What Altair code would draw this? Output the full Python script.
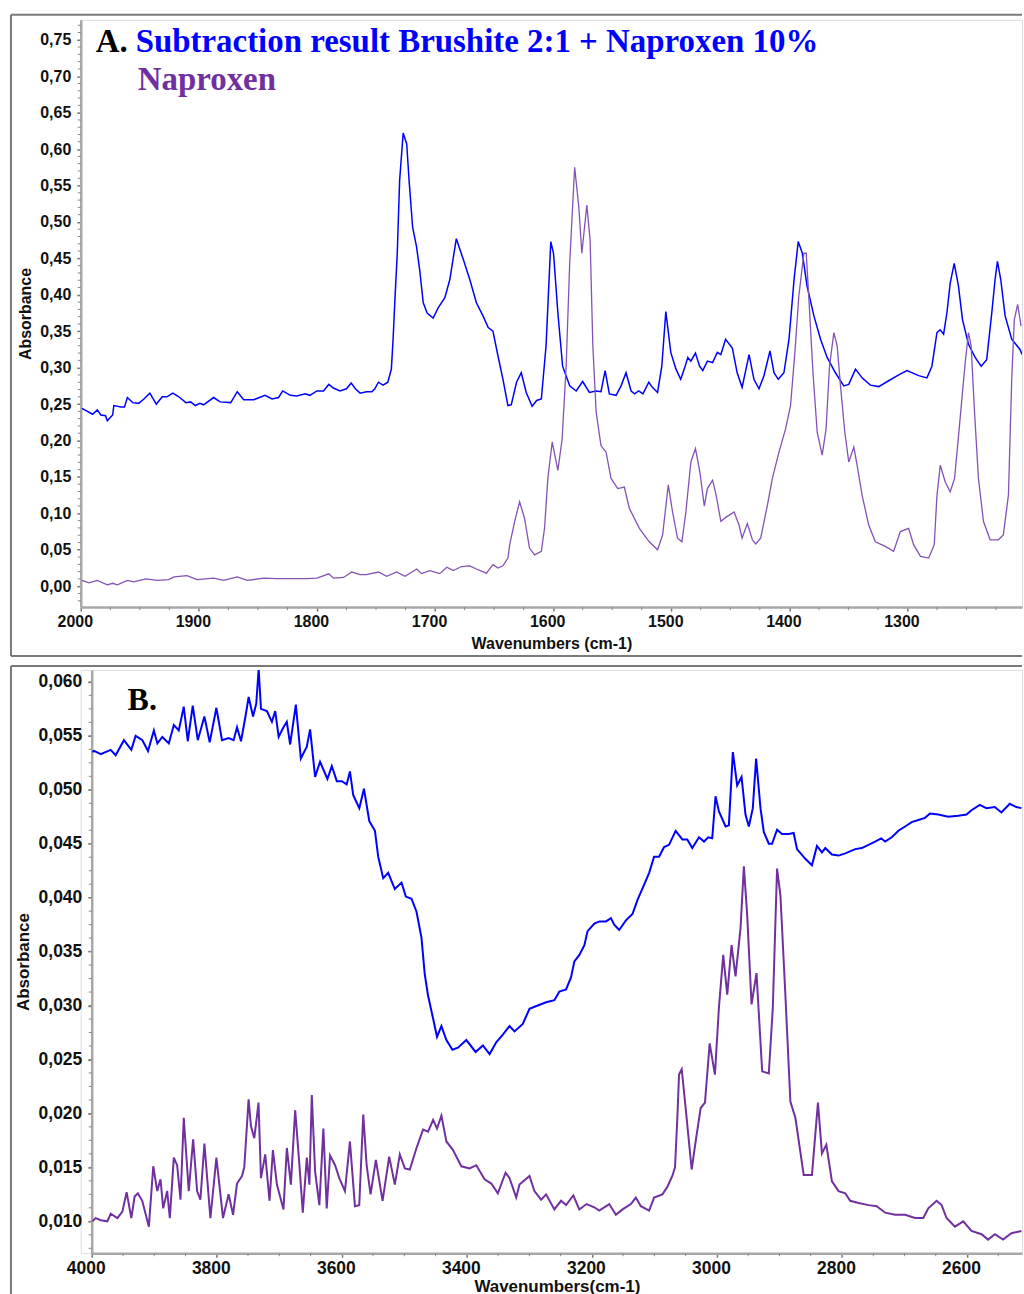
import altair as alt
import pandas as pd

# ---------------- Panel A data (2000-1203 cm-1) ----------------
a_blue_wn = [1999, 1990, 1986, 1983, 1979, 1977.5, 1973, 1972, 1966, 1963, 1960.5, 1956, 1951, 1946.5,
             1941.5, 1936, 1931, 1927, 1922, 1917, 1911, 1907, 1903, 1899, 1896, 1887.5, 1882, 1873,
             1867.5, 1862, 1853.5, 1844, 1838, 1832.5, 1829, 1822.5, 1817, 1810, 1806, 1800, 1794.5,
             1790, 1786, 1780.5, 1775, 1771, 1767.5, 1763.5, 1758, 1753.5, 1751, 1748, 1744, 1740, 1737,
             1735.5, 1734, 1732, 1730, 1727, 1724, 1722, 1719, 1715.7, 1713, 1710, 1706.7, 1701.6,
             1697.4, 1691.7, 1687.5, 1682, 1676, 1670.6, 1665, 1659.4, 1655, 1651, 1646.7, 1642.5,
             1638.3, 1635.5, 1631, 1627, 1622.8, 1617.8, 1614, 1610, 1606, 1602, 1599.7, 1596, 1592,
             1586, 1580.5, 1575, 1569.3, 1563.7, 1559.5, 1556, 1552.4, 1546.7, 1542.5, 1538.3, 1534,
             1531, 1527.6, 1524, 1519, 1516, 1511.6, 1508, 1504.6, 1500.4, 1496, 1492, 1489, 1486,
             1483.4, 1479.5, 1476, 1473.3, 1469.4, 1465, 1461, 1458, 1454, 1448.3, 1444.2, 1440,
             1434.1, 1430, 1425.7, 1421.5, 1416.4, 1413, 1409.4, 1404.6, 1400.3, 1396, 1392.5, 1389,
             1385, 1379.2, 1373.6, 1368, 1361, 1353.9, 1349.7, 1344, 1338.4, 1331.4, 1324.3, 1315.9,
             1307.4, 1300.4, 1290.5, 1283.5, 1279.3, 1275, 1272.3, 1269.4, 1266.6, 1263.8, 1260.4,
             1256.8, 1253.4, 1248.3, 1242.7, 1237.6, 1232.9, 1228.6, 1225.8, 1223.8, 1221, 1217.3,
             1211.7, 1204.7, 1203]
a_blue_abs = [.244, .236, .242, .235, .234, .227, .235, .248, .246, .246, .259, .252, .251, .257,
              .265, .250, .260, .260, .265, .260, .252, .253, .248, .251, .249, .259, .253, .252,
              .267, .256, .256, .262, .257, .259, .268, .262, .261, .264, .262, .268, .268,
              .277, .272, .268, .271, .279, .271, .265, .267, .267, .271, .280, .276, .280, .298,
              .340, .393, .457, .557, .622, .607, .557, .493, .466, .434, .389, .375, .368,
              .382, .396, .421, .477, .448, .421, .389, .371, .355, .350, .316, .284,
              .248, .249, .280, .293, .266, .247, .255, .257, .330, .473, .457, .375, .302,
              .275, .268, .281, .266, .268, .267, .296, .264, .262, .275, .293, .268,
              .264, .268, .264, .280, .273, .266, .302, .377, .321, .298, .284, .298, .314,
              .309, .320, .302, .296, .309, .307, .321, .318, .339, .327, .293, .273,
              .318, .284, .271, .289, .323, .293, .284, .293, .339, .421, .473, .457,
              .412, .371, .339, .314, .293, .275, .277, .298, .286, .276, .274, .282,
              .290, .296, .289, .286, .302, .348, .352, .346, .375, .416, .443,
              .412, .366, .332, .314, .302, .311, .375, .421, .446, .421, .371,
              .339, .325, .318]

a_purple_wn = [1999, 1993, 1986, 1977.5, 1973, 1969, 1960.5, 1955, 1945, 1935, 1925.5, 1921, 1910,
               1901.5, 1887.5, 1879, 1867.5, 1859, 1845, 1834, 1822.5, 1808.5, 1800, 1790, 1786,
               1777.5, 1770.5, 1763.5, 1758, 1748, 1741, 1732.5, 1725.5, 1715.5, 1711.5, 1704.5,
               1696, 1690, 1684.5, 1677.5, 1670.5, 1665, 1656.5, 1651, 1646.7, 1642.5, 1638.3,
               1636.8, 1632.6, 1628.4, 1624.2, 1620, 1615.7, 1610, 1607.3, 1604.5, 1600.8, 1596,
               1592.4, 1589, 1586, 1581.8, 1578.3, 1575.7, 1571.5, 1568.7, 1566.4, 1563.6, 1559.5,
               1555.2, 1551, 1545.3, 1539.7, 1535.5, 1527, 1518.6, 1511.6, 1507.3, 1502.5, 1498.9,
               1494.7, 1491, 1487.6, 1483.4, 1479.5, 1475.8, 1472, 1469.4, 1465, 1462, 1458, 1452.9,
               1446.8, 1442.6, 1440, 1435.6, 1431.3, 1428.5, 1424.3, 1418.6, 1414.4, 1408.8, 1403.2,
               1399, 1395.3, 1392, 1387.7, 1385.7, 1383.4, 1380, 1376.4, 1372.2, 1368.9, 1366,
               1362.3, 1359.5, 1356.7, 1353, 1349.7, 1345.4, 1342.6, 1338.4, 1332.8, 1327.2, 1318.7,
               1311.7, 1306, 1299, 1294.8, 1289, 1282, 1277.3, 1275, 1272.2, 1268, 1263.8, 1260.1,
               1256.2, 1251.1, 1248.3, 1246.1, 1243.2, 1239.9, 1235.6, 1230, 1223, 1218.8, 1214.5,
               1211.7, 1209.5, 1206.7, 1203.8]
a_purple_abs = [.008, .0045, .008, .002, .004, .002, .008, .006, .010, .008, .009, .0127, .0146,
                .009, .011, .008, .0127, .008, .011, .0105, .0105, .0105, .011, .017, .011,
                .012, .0195, .016, .016, .0195, .0136, .0195, .0136, .0236, .0173, .0214,
                .0173, .026, .0214, .027, .028, .0236, .018, .0296, .025, .028, .0386,
                .057, .0887, .116, .093, .052, .043, .048, .0795, .148, .198, .159,
                .202, .302, .443, .575, .521, .457, .523, .475, .330, .239, .193,
                .184, .148, .134, .136, .107, .0795, .061, .050, .0705, .139, .102,
                .066, .061, .102, .1705, .189, .157, .110, .134, .1455, .125, .089, .0955,
                .102, .084, .066, .086, .0637, .058, .066, .111, .148, .184, .216,
                .248, .321, .398, .457, .457, .393, .293, .211, .180, .216, .302,
                .348, .330, .275, .211, .1705, .191, .166, .125, .084, .061, .0546,
                .048, .075, .0795, .057, .041, .0386, .057, .125, .166, .143, .1296, .148,
                .216, .307, .348, .330, .239, .148, .0887, .0637, .0637, .0705, .125,
                .284, .366, .387, .357]

# ---------------- Panel B data (4000-2512 cm-1) ----------------
b_blue_wn = [3999, 3996.3, 3985.6, 3969.7, 3961.7, 3948.5, 3936.7, 3929.8, 3919, 3910, 3900.6, 3895,
             3887, 3876.7, 3868.7, 3860.8, 3852.8, 3846.4, 3838.4, 3830.4, 3819.8, 3811.3, 3800.6,
             3791.6, 3781, 3773, 3767.6, 3761.2, 3754.4, 3749, 3742, 3736.8, 3733, 3729.3, 3719.8,
             3711.8, 3706.5, 3701, 3693.3, 3688, 3682.6, 3673.5, 3665.5, 3656, 3650.7, 3642.7,
             3634.8, 3623, 3616, 3608, 3600, 3592.2, 3587, 3581.7, 3572, 3564.6, 3556, 3547, 3541.8,
             3533.8, 3525.8, 3515.2, 3504.5, 3497.6, 3488.5, 3480.5, 3472.6, 3467.3, 3462, 3454,
             3447.7, 3440.7, 3432.7, 3423.1, 3414.2, 3400.8, 3386, 3374.3, 3363.6, 3353, 3342.4,
             3331.7, 3323.8, 3310.5, 3299.8, 3286.6, 3273.2, 3260, 3252, 3241.3, 3233.4, 3228, 3220,
             3212, 3206.9, 3196, 3188, 3177.5, 3169.5, 3164.3, 3156.3, 3145.6, 3135, 3127, 3116.4,
             3108.4, 3100.5, 3092.5, 3084.5, 3076.6, 3066, 3055.3, 3047.4, 3039.4, 3028.7, 3020.7,
             3013.9, 3007.5, 3002.2, 2996.8, 2986.1, 2980.9, 2974.5, 2967.6, 2960.6, 2954.3, 2948.9,
             2942.6, 2937.3, 2930.3, 2925, 2917, 2911.8, 2903.8, 2895.9, 2885.2, 2877.2, 2871.9,
             2858.6, 2848, 2840, 2832, 2826.7, 2816, 2805.4, 2794.7, 2778.7, 2768.2, 2757.6, 2746.9,
             2737.3, 2730.9, 2720.3, 2709.7, 2699, 2688.5, 2677.8, 2667.2, 2659.2, 2645.9, 2630,
             2614, 2600.8, 2592.8, 2579.5, 2568.9, 2555.5, 2545, 2531.6, 2521, 2513]
b_blue_abs = [.0535, .0536, .0533, .0537, .0532, .0546, .0537, .0550, .0546, .0536, .0555, .0543,
              .0549, .0543, .0560, .0555, .0577, .0545, .0578, .0546, .0568, .0544, .0576,
              .0546, .0548, .0546, .0558, .0545, .0567, .0586, .0568, .0580, .0612, .0575, .0573,
              .0563, .0573, .0549, .0558, .0563, .0542, .0579, .0529, .0540, .0556, .0512,
              .0526, .0510, .0522, .0508, .0508, .0505, .0517, .0495, .0483, .0501, .0471, .0462, .0438,
              .0418, .0423, .0408, .0414, .0401, .0399, .0387, .0363, .0329, .0309, .0288,
              .0271, .0281, .0268, .0259, .0261, .0268, .0257, .0263, .0255, .0266, .0273,
              .0281, .0276, .0283, .0297, .0300, .0303, .0305, .0313, .0315, .0326, .0341, .0347,
              .0356, .0369, .0376, .0378, .0378, .0381, .0375, .0370, .0379, .0385, .0398, .0412,
              .0423, .0438, .0438, .0447, .0449, .0462, .0454, .0454, .0446, .0456, .0452,
              .0456, .0455, .0494, .0480, .0466, .0467, .0535, .0504, .0512, .0477, .0466,
              .0483, .0529, .0483, .0461, .0450, .0450, .0463, .0459, .0459, .0460, .0445,
              .0436, .0430, .0448, .0442, .0446, .0440, .0439, .0441, .0445, .0446, .0449, .0452,
              .0455, .0452, .0456, .0462, .0466, .0470, .0472, .0474, .0478, .0477, .0475,
              .0476, .0477, .0481, .0486, .0483, .0484, .0479, .0487, .0484, .0483]

b_purple_wn = [3999, 3993.6, 3985.6, 3975, 3969.7, 3959, 3951, 3944.2, 3936.7, 3931.4, 3926.2, 3919.2,
               3908.6, 3901.6, 3895.2, 3890, 3885.7, 3879.3, 3875.1, 3868.7, 3863.4, 3858, 3852.8,
               3844.8, 3837.8, 3831.4, 3826.2, 3819.8, 3810.2, 3800.6, 3790, 3781, 3774, 3767.6,
               3759.7, 3756, 3749.1, 3745.3, 3740, 3733.2, 3729.3, 3722.5, 3715.6, 3710.2, 3703.8,
               3693.3, 3687.9, 3681.5, 3674.6, 3667.8, 3662.4, 3656, 3651.8, 3648, 3642.7, 3635.9,
               3629.5, 3624.1, 3618.8, 3610.8, 3604, 3595, 3587, 3579, 3572.1, 3565.7, 3560.3, 3554,
               3545.5, 3534.8, 3524.2, 3515.2, 3507.2, 3499.2, 3491.2, 3480.5, 3470, 3462, 3454,
               3447.7, 3440.7, 3432.7, 3422.1, 3408.8, 3395.5, 3384.9, 3371.6, 3360.9, 3350.4,
               3338.1, 3331.7, 3321, 3315.8, 3299.8, 3291.9, 3281.2, 3273.2, 3260, 3249.3, 3241.3,
               3229.7, 3220.1, 3208.5, 3196.2, 3188.2, 3172.2, 3161.6, 3151, 3137.6, 3129.7, 3121.7,
               3108.4, 3100.5, 3087.2, 3079.2, 3071.3, 3067, 3063, 3060.6, 3056.3, 3050, 3040.4, 3034,
               3026, 3019.1, 3011.6, 3003.2, 2996.8, 2989.9, 2983.5, 2976.6, 2970.2, 2962.2, 2956.9,
               2951.6, 2944.6, 2936.7, 2927.6, 2917, 2910.6, 2903.8, 2898.4, 2890.5, 2882.5, 2874.5,
               2861.2, 2848, 2838.4, 2832, 2825, 2816, 2805.4, 2794.7, 2786.8, 2773.4, 2757.6,
               2744.4, 2730.9, 2715, 2699, 2683.1, 2669.9, 2661.9, 2648.6, 2640.6, 2632.7, 2619.3,
               2606, 2592.8, 2576.8, 2566.2, 2555.5, 2542.3, 2529, 2513]
b_purple_abs = [.0100, .0103, .0101, .0100, .0107, .0103, .0109, .0127, .0103, .0123, .0126, .0119,
                .0095, .0151, .0128, .0139, .0112, .0128, .0103, .0159, .0152, .0120, .0196,
                .0128, .0176, .0128, .0120, .0172, .0103, .0159, .0103, .0125, .0106, .0135,
                .0142, .0150, .0213, .0188, .0177, .0210, .0140, .0162, .0119, .0166, .0134,
                .0111, .0168, .0134, .0203, .0152, .0108, .0159, .0134, .0217, .0146, .0115,
                .0186, .0112, .0161, .0152, .0140, .0128, .0174, .0114, .0115, .0199, .0152, .0125,
                .0157, .0119, .0160, .0134, .0162, .0149, .0148, .0168, .0185, .0183, .0194,
                .0186, .0198, .0174, .0166, .0151, .0149, .0152, .0139, .0135, .0126,
                .0145, .0140, .0122, .0134, .0142, .0128, .0120, .0125, .0111, .0119, .0115,
                .0124, .0111, .0116, .0113, .0110, .0116, .0106, .0111, .0116, .0122, .0114,
                .0110, .0122, .0125, .0132, .0142, .0150, .0200, .0236, .0241, .0205, .0148, .0174,
                .0205, .0210, .0265, .0236, .0298, .0347, .0310, .0356, .0327, .0372, .0429,
                .0384, .0301, .0330, .0239, .0237, .0298, .0427, .0402, .0310, .0211, .0196,
                .0143, .0143, .0210, .0163, .0171, .0137, .0128, .0126, .0119, .0117, .0115,
                .0114, .0108, .0106, .0106, .0103, .0103, .0112, .0119, .0115, .0103, .0095,
                .0100, .0091, .0088, .0083, .0088, .0083, .0089, .0091]

# axis tick values
a_x_ticks = [2000, 1900, 1800, 1700, 1600, 1500, 1400, 1300]
a_y_ticks = [0.00, 0.05, 0.10, 0.15, 0.20, 0.25, 0.30, 0.35, 0.40, 0.45, 0.50, 0.55, 0.60, 0.65, 0.70, 0.75]
b_x_ticks = [4000, 3800, 3600, 3400, 3200, 3000, 2800, 2600]
b_y_ticks = [0.010, 0.015, 0.020, 0.025, 0.030, 0.035, 0.040, 0.045, 0.050, 0.055, 0.060]
a_x_minor = [2000 - 25 * i for i in range(32) if (2000 - 25 * i) % 100 != 0]
a_y_minor = [round(-0.02 + 0.01 * i, 3) for i in range(80) if i % 5 != 2]
b_x_minor = [4000 - 50 * i for i in range(30) if (4000 - 50 * i) % 200 != 0]
b_y_minor = [round(0.0075 + 0.00125 * i, 5) for i in range(43)]

BLUE = "#0000FF"
PURPLE = "#7030A0"
FRAME = "#7a7a7a"
AXIS_GRAY = "#a8a8a8"
SANS = "Liberation Sans"
SERIF = "Liberation Serif"

one = pd.DataFrame({"k": [0]})
W, H_A, H_B = 944, 589, 585


def panel(blue_wn, blue_abs, pur_wn, pur_abs, xdom, x0, ydom, xticks, yticks, xminor, yminor,
          H, fs_lab, fs_title, yfmt, texts, frame_bottom, frame_top,
          lw_blue, lw_pur, pur_color, xt_pad, xtitle, draw_bottom):
    xenc = alt.X("wn:Q",
                 scale=alt.Scale(domain=[xdom[1], xdom[0]], range=[x0, W], nice=False, zero=False),
                 axis=alt.Axis(values=xticks, format="d", title=xtitle,
                               grid=False, labelFont=SANS, labelFontWeight="bold",
                               labelFontSize=fs_lab, labelColor="#111", titleFont=SANS,
                               titleFontWeight="bold", titleFontSize=fs_title, titleColor="#111",
                               domainColor=AXIS_GRAY, domainWidth=2.5, tickColor="#777",
                               tickSize=4, tickWidth=1.5, labelPadding=2, titlePadding=xt_pad,
                               labelOffset=-6, labelFlush=False))
    yenc = alt.Y("abs:Q",
                 scale=alt.Scale(domain=ydom, nice=False, zero=False),
                 axis=alt.Axis(values=yticks, title="Absorbance", grid=False, offset=-x0,
                               labelExpr=f"replace(format(datum.value, '{yfmt}'), '.', ',')",
                               labelFont=SANS, labelFontWeight="bold", labelFontSize=fs_lab,
                               labelColor="#111", titleFont=SANS, titleFontWeight="bold",
                               titleFontSize=fs_title, titleColor="#111", domainColor=AXIS_GRAY,
                               domainWidth=2.5, tickColor="#777", tickSize=4, tickWidth=1.5,
                               labelPadding=6, titlePadding=6, labelFlush=False))

    df_b = pd.DataFrame({"wn": blue_wn, "abs": blue_abs})
    df_p = pd.DataFrame({"wn": pur_wn, "abs": pur_abs})
    blue = alt.Chart(df_b).mark_line(color=BLUE, strokeWidth=lw_blue, clip=True).encode(x=xenc, y=yenc)
    pur = alt.Chart(df_p).mark_line(color=pur_color, strokeWidth=lw_pur, clip=True).encode(x=xenc, y=yenc)

    ymin = alt.Chart(pd.DataFrame({"abs": yminor})).transform_filter(
        (alt.datum.abs >= ydom[0]) & (alt.datum.abs <= ydom[1])
    ).mark_rule(color="#888", strokeWidth=1).encode(y=yenc, x=alt.value(x0 - 3), x2=alt.value(x0))
    xmin = alt.Chart(pd.DataFrame({"wn": xminor})).transform_filter(
        (alt.datum.wn >= xdom[0]) & (alt.datum.wn <= xdom[1])
    ).mark_rule(color="#888", strokeWidth=1).encode(x=xenc, y=alt.value(H), y2=alt.value(H + 3))

    txt = alt.Chart(pd.DataFrame(texts)).mark_text(
        align="left", baseline="alphabetic", font=SERIF, fontWeight="bold"
    ).encode(x=xenc, y=yenc, text="label:N", color=alt.Color("col:N", scale=None),
             size=alt.Size("fs:Q", scale=None, legend=None))

    f_top = alt.Chart(one).mark_rule(color=FRAME, strokeWidth=2).encode(
        x=alt.value(-70), x2=alt.value(W), y=alt.value(frame_top))
    f_left = alt.Chart(one).mark_rule(color=FRAME, strokeWidth=2).encode(
        x=alt.value(-70), y=alt.value(frame_top), y2=alt.value(frame_bottom))
    layers = [blue, pur, ymin, xmin, txt, f_top, f_left]
    if draw_bottom:
        f_bot = alt.Chart(one).mark_rule(color=FRAME, strokeWidth=2).encode(
            x=alt.value(-70), x2=alt.value(W), y=alt.value(frame_bottom))
        layers.append(f_bot)
    return alt.layer(*layers).properties(width=W, height=H)


texts_a = {"wn": [1987.3, 1953.5, 1951.8], "abs": [0.7335, 0.7335, 0.6805],
           "label": ["A.", "Subtraction result Brushite 2:1 + Naproxen 10%", "Naproxen"],
           "col": ["#000000", BLUE, PURPLE], "fs": [33, 33, 33]}
texts_b = {"wn": [3942.6], "abs": [0.0574], "label": ["B."], "col": ["#000000"], "fs": [32]}

chart_a = panel(a_blue_wn, a_blue_abs, a_purple_wn, a_purple_abs, [1203, 2000], 0, [-0.0287, 0.7774],
                a_x_ticks, a_y_ticks, a_x_minor, a_y_minor, H_A, 16, 16, ".2f", texts_a,
                H_A + 49, -5, 1.5, 1.3, "#8352b6", 6, "Wavenumbers (cm-1)", True)
chart_b = panel(b_blue_wn, b_blue_abs, b_purple_wn, b_purple_abs, [2512, 4000], 11, [0.00704, 0.06111],
                b_x_ticks, b_y_ticks, b_x_minor, b_y_minor, H_B, 17.5, 17, ".3f", texts_b,
                H_B + 41, -4, 2, 2, PURPLE, 2, "Wavenumbers(cm-1)", False)

chart = alt.vconcat(chart_a, chart_b, spacing=6).properties(
    padding={"left": 9, "top": 11, "right": 0, "bottom": 0}
).configure_view(stroke=None).configure(background="white")

chart.save("out.html", embed_options={"renderer": "svg", "actions": False})
